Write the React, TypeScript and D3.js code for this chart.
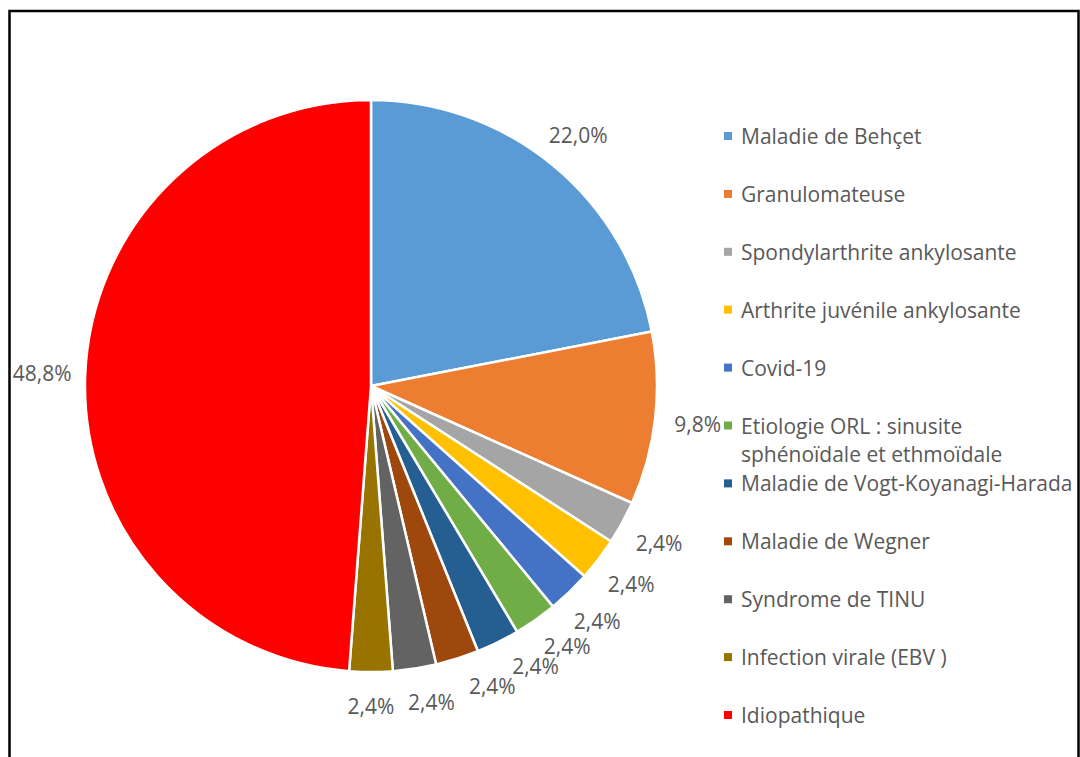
import React from "react";
import * as d3 from "d3";

const categories: string[][] = [
  ["Maladie de Behçet"],
  ["Granulomateuse"],
  ["Spondylarthrite ankylosante"],
  ["Arthrite juvénile ankylosante"],
  ["Covid-19"],
  ["Etiologie ORL : sinusite", "sphénoïdale et ethmoïdale"],
  ["Maladie de Vogt-Koyanagi-Harada"],
  ["Maladie de Wegner"],
  ["Syndrome de TINU"],
  ["Infection virale (EBV )"],
  ["Idiopathique"],
];
const counts: number[] = [9, 4, 1, 1, 1, 1, 1, 1, 1, 1, 20];
const labels: string[] = ["22,0%", "9,8%", "2,4%", "2,4%", "2,4%", "2,4%", "2,4%", "2,4%", "2,4%", "2,4%", "48,8%"];
const colors: string[] = [
  "#5B9BD5", "#ED7D31", "#A5A5A5", "#FFC000", "#4472C4", "#70AD47",
  "#255E91", "#9E480E", "#636363", "#997300", "#FF0000",
];

const W = 1080;
const H = 757;
const cx = 371;
const cy = 386;
const R = 286;
const FS = 21;
const FONT = "'Open Sans', 'Noto Sans', sans-serif";

function labelPos(a: number) {
  const lr = 320 + 9 * Math.abs(Math.sin(a));
  return { x: Math.sin(a) * lr, y: -Math.cos(a) * lr };
}

export default function App() {
  const pie = d3.pie<number>().sort(null).value((d) => d);
  const arcs = pie(counts);
  const arcGen = d3.arc<d3.PieArcDatum<number>>().innerRadius(0).outerRadius(R);
  const legendY = d3.scaleLinear().domain([0, 10]).range([136, 715]);

  // label angles, with simple overlap avoidance (pushing counter-clockwise)
  const angles = arcs.map((a) => (a.startAngle + a.endAngle) / 2);
  const boxW = labels.map((l) => l.length * 0.55 * FS + 14);
  const boxH = 20;
  for (let i = arcs.length - 3; i >= 1; i--) {
    const next = labelPos(angles[i + 1]);
    let a = angles[i];
    let guard = 0;
    while (guard++ < 2000) {
      const p = labelPos(a);
      const ox = Math.abs(p.x - next.x) < (boxW[i] + boxW[i + 1]) / 2;
      const oy = Math.abs(p.y - next.y) < boxH;
      if (!(ox && oy)) break;
      a -= 0.002;
    }
    angles[i] = a;
  }

  return (
    <svg
      width={W}
      height={H}
      style={{ position: "absolute", left: 0, top: 0, background: "#fff" }}
      fontFamily={FONT}
    >
      <rect x={9.5} y={11} width={1069} height={760} fill="#fff" stroke="#000" strokeWidth={2.5} />
      <g transform={`translate(${cx},${cy})`}>
        {arcs.map((a, i) => (
          <path key={i} d={arcGen(a) || ""} fill={colors[i]} stroke="#fff" strokeWidth={2.5} strokeLinejoin="round" />
        ))}
        {arcs.map((a, i) => {
          const p = labelPos(angles[i]);
          return (
            <text
              key={"l" + i}
              x={p.x}
              y={p.y}
              textAnchor="middle"
              dominantBaseline="central"
              fontSize={FS}
              fill="#595959"
            >
              {labels[i]}
            </text>
          );
        })}
      </g>
      <g>
        {categories.map((lines, i) => {
          const y = legendY(i);
          return (
            <g key={"g" + i}>
              <rect x={724} y={y - 4} width={8} height={8} fill={colors[i]} />
              {lines.map((ln, j) => (
                <text
                  key={j}
                  x={741}
                  y={y + j * 28}
                  dominantBaseline="central"
                  fontSize={FS}
                  fill="#595959"
                >
                  {ln}
                </text>
              ))}
            </g>
          );
        })}
      </g>
    </svg>
  );
}
